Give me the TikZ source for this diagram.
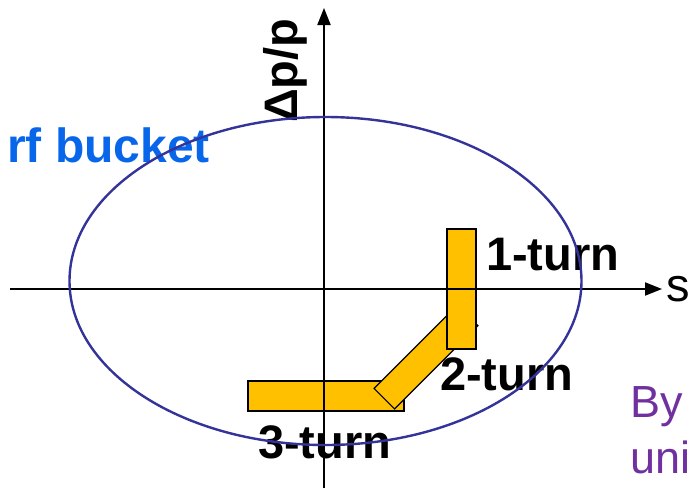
\documentclass[tikz,border=0pt]{standalone}
\usepackage{fontspec}
\setmainfont{Liberation Sans}
\usetikzlibrary{arrows.meta}

\definecolor{bucketline}{RGB}{51,51,153}
\definecolor{buckettext}{RGB}{8,102,235}
\definecolor{turnfill}{RGB}{255,192,0}
\definecolor{notepurple}{RGB}{112,48,160}

\begin{document}
\begin{tikzpicture}[
  x=1pt,y=-1pt,
  >={Triangle[length=17pt,width=13pt]},
  axis/.style={->, line width=2pt, draw=black},
  bucket/.style={line width=2.4pt, draw=bucketline},
  turn/.style={rectangle, draw=black, line width=1.1pt, fill=turnfill, inner sep=0pt},
  label/.style={font=\fontsize{47}{50}\selectfont\bfseries, text=black, inner sep=0pt},
  note/.style={font=\fontsize{45}{50}\selectfont, text=notepurple, inner sep=0pt}
]
\useasboundingbox (0,0) rectangle (689,488);

% Bunch positions after each turn
\node[turn, minimum width=156pt, minimum height=30pt] (turn3) at (326,396) {};
\node[turn, minimum width=118pt, minimum height=29pt, rotate=45] (turn2) at (426,357) {};
\node[turn, minimum width=29pt, minimum height=120pt] (turn1) at (461.5,289) {};

% Labels
\node[label, anchor=base west] (lab1) at (486,270) {1-turn};
\node[label, anchor=base west] (lab2) at (440,390) {2-turn};
\node[label, anchor=base west] (lab3) at (258,458) {3-turn};
\node[label, text=buckettext, font=\fontsize{48}{50}\selectfont\bfseries, anchor=base west] (rfb) at (7,162) {rf bucket};
\node[label, rotate=90, anchor=base west] (dpp) at (297,123) {Δp/p};
\node[note, anchor=base west] (by) at (630,417) {By};
\node[note, anchor=base west] (uni) at (630,473) {uni};

% Axes
\coordinate (sL) at (10,289);
\coordinate (sR) at (662,289);
\coordinate (pB) at (324,488);
\coordinate (pT) at (324,8);
\draw[axis] (sL) -- (sR);
\draw[axis] (pB) -- (pT);
\node[font=\fontsize{47}{50}\selectfont, anchor=west, inner sep=0pt] (s) at ([xshift=4pt]sR) {s};

% rf bucket
\draw[bucket] (325.5,281) ellipse (256 and 164);

\end{tikzpicture}
\end{document}
